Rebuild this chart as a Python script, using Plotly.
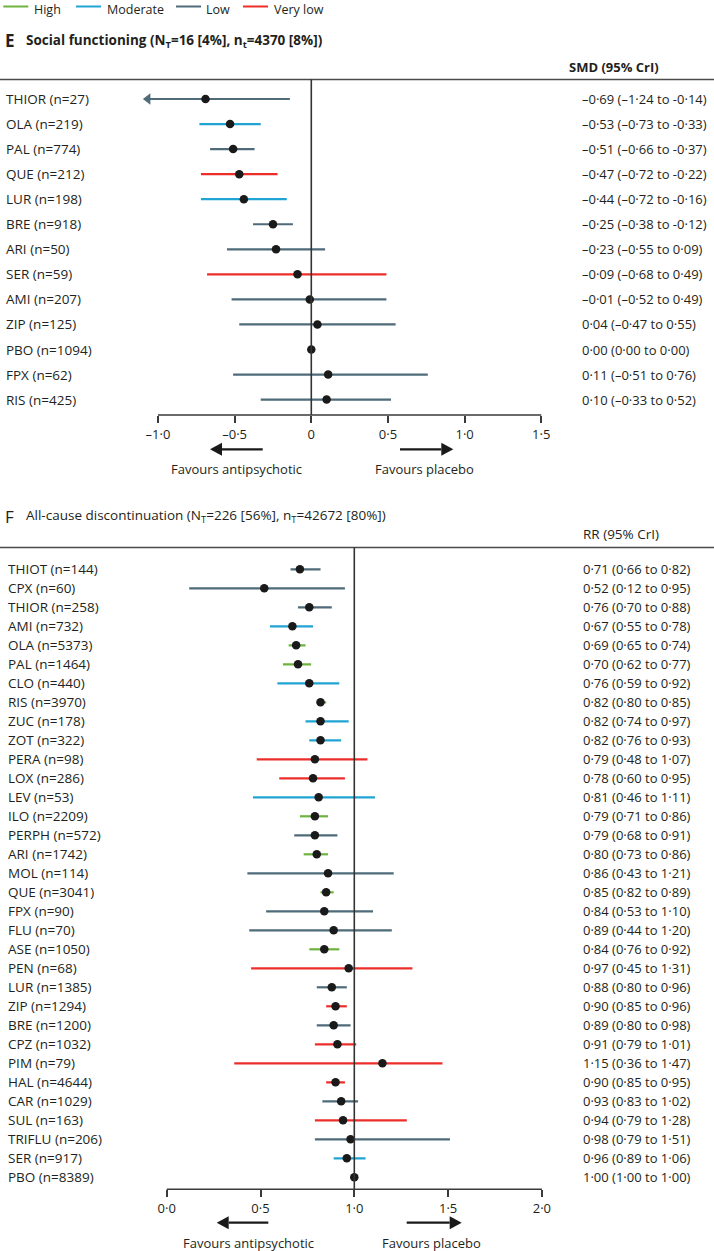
import plotly.graph_objects as go

W, H = 714, 1251
FONT = "Open Sans"
INK = "#231f20"

# ---------------- data ----------------
CERT_LEVELS = ["High", "Moderate", "Low", "Very low"]
CERT_COLORS = {"High": "#6db33f", "Moderate": "#1fa4d3", "Low": "#4f6a78", "Very low": "#ec2e2b"}

E_LABELS = ["THIOR (n=27)", "OLA (n=219)", "PAL (n=774)", "QUE (n=212)", "LUR (n=198)",
            "BRE (n=918)", "ARI (n=50)", "SER (n=59)", "AMI (n=207)", "ZIP (n=125)",
            "PBO (n=1094)", "FPX (n=62)", "RIS (n=425)"]
E_EST = [-0.69, -0.53, -0.51, -0.47, -0.44, -0.25, -0.23, -0.09, -0.01, 0.04, 0.00, 0.11, 0.10]
E_LO = [-1.24, -0.73, -0.66, -0.72, -0.72, -0.38, -0.55, -0.68, -0.52, -0.47, 0.00, -0.51, -0.33]
E_HI = [-0.14, -0.33, -0.37, -0.22, -0.16, -0.12, 0.09, 0.49, 0.49, 0.55, 0.00, 0.76, 0.52]
E_CERT = ["Low", "Moderate", "Low", "Very low", "Moderate", "Low", "Low", "Very low",
          "Low", "Low", None, "Low", "Low"]
E_TICKS = [-1.0, -0.5, 0.0, 0.5, 1.0, 1.5]
E_TICKTEXT = ["\u20131\u00b70", "\u20130\u00b75", "0", "0\u00b75", "1\u00b70", "1\u00b75"]
E_CLIP = -1.10  # display limit of the axis (arrow marks truncated intervals)

F_LABELS = ["THIOT (n=144)", "CPX (n=60)", "THIOR (n=258)", "AMI (n=732)", "OLA (n=5373)",
            "PAL (n=1464)", "CLO (n=440)", "RIS (n=3970)", "ZUC (n=178)", "ZOT (n=322)",
            "PERA (n=98)", "LOX (n=286)", "LEV (n=53)", "ILO (n=2209)", "PERPH (n=572)",
            "ARI (n=1742)", "MOL (n=114)", "QUE (n=3041)", "FPX (n=90)", "FLU (n=70)",
            "ASE (n=1050)", "PEN (n=68)", "LUR (n=1385)", "ZIP (n=1294)", "BRE (n=1200)",
            "CPZ (n=1032)", "PIM (n=79)", "HAL (n=4644)", "CAR (n=1029)", "SUL (n=163)",
            "TRIFLU (n=206)", "SER (n=917)", "PBO (n=8389)"]
F_EST = [0.71, 0.52, 0.76, 0.67, 0.69, 0.70, 0.76, 0.82, 0.82, 0.82, 0.79, 0.78, 0.81,
         0.79, 0.79, 0.80, 0.86, 0.85, 0.84, 0.89, 0.84, 0.97, 0.88, 0.90, 0.89, 0.91,
         1.15, 0.90, 0.93, 0.94, 0.98, 0.96, 1.00]
F_LO = [0.66, 0.12, 0.70, 0.55, 0.65, 0.62, 0.59, 0.80, 0.74, 0.76, 0.48, 0.60, 0.46,
        0.71, 0.68, 0.73, 0.43, 0.82, 0.53, 0.44, 0.76, 0.45, 0.80, 0.85, 0.80, 0.79,
        0.36, 0.85, 0.83, 0.79, 0.79, 0.89, 1.00]
F_HI = [0.82, 0.95, 0.88, 0.78, 0.74, 0.77, 0.92, 0.85, 0.97, 0.93, 1.07, 0.95, 1.11,
        0.86, 0.91, 0.86, 1.21, 0.89, 1.10, 1.20, 0.92, 1.31, 0.96, 0.96, 0.98, 1.01,
        1.47, 0.95, 1.02, 1.28, 1.51, 1.06, 1.00]
F_CERT = ["Low", "Low", "Low", "Moderate", "High", "High", "Moderate", "High", "Moderate",
          "Moderate", "Very low", "Very low", "Moderate", "High", "Low", "High", "Low",
          "High", "Low", "Low", "High", "Very low", "Low", "Very low", "Low", "Very low",
          "Very low", "Very low", "Low", "Very low", "Low", "Moderate", None]
F_TICKS = [0.0, 0.5, 1.0, 1.5, 2.0]
F_TICKTEXT = ["0\u00b70", "0\u00b75", "1\u00b70", "1\u00b75", "2\u00b70"]

E_TITLE = "Social functioning (N<sub>T</sub>=16 [4%], n<sub>t</sub>=4370 [8%])"
F_TITLE = "All-cause discontinuation (N<sub>T</sub>=226 [56%], n<sub>T</sub>=42672 [80%])"
E_HEADER = "SMD (95% CrI)"
F_HEADER = "RR (95% CrI)"


def fmt(v, dash="\u2013"):
    s = f"{abs(v):.2f}".replace(".", "\u00b7")
    return dash + s if v < 0 else s


def ci_text(e, l, h):
    return f"{fmt(e)} ({fmt(l)} to {fmt(h, '-')})"


# ---------------- layout geometry (pixels) ----------------
def px(x):
    return x / W


def py(y):
    return 1 - y / H


# panel E
E_ZERO_PX, E_UNIT_PX = 311.3, 153.3
E_TOP_PX, E_AXIS_PX, E_ROW0_PX, E_ROWSTEP = 79.5, 415.0, 99.0, 25.05
# panel F
F_ZERO_PX, F_UNIT_PX = 166.7, 187.6
F_TOP_PX, F_AXIS_PX, F_ROW0_PX, F_ROWSTEP = 547.5, 1189.3, 569.3, 19.0

fig = go.Figure()


def add_panel(xa, ya, est, lo, hi, cert, clip=None):
    for lvl in CERT_LEVELS:
        xs, ys = [], []
        for i, c in enumerate(cert):
            if c != lvl:
                continue
            l = lo[i] if clip is None or lo[i] >= clip else clip + 0.03
            xs += [l, hi[i], None]
            ys += [i, i, None]
        if xs:
            fig.add_trace(go.Scatter(x=xs, y=ys, mode="lines", xaxis=xa, yaxis=ya,
                                     line=dict(color=CERT_COLORS[lvl], width=2.2),
                                     showlegend=False, hoverinfo="skip"))
    if clip is not None:
        ax_, ay_, col_ = [], [], []
        for i, l in enumerate(lo):
            if l < clip:
                ax_.append(clip + 0.034)
                ay_.append(i)
                col_.append(CERT_COLORS[cert[i]])
        if ax_:
            fig.add_trace(go.Scatter(x=ax_, y=ay_, mode="markers", xaxis=xa, yaxis=ya,
                                     marker=dict(symbol="triangle-left", size=10, color=col_),
                                     showlegend=False, hoverinfo="skip"))
    fig.add_trace(go.Scatter(x=est, y=list(range(len(est))), mode="markers", xaxis=xa, yaxis=ya,
                             marker=dict(color="#1a1a1a", size=8.5, line=dict(width=0)),
                             showlegend=False))


add_panel("x", "y", E_EST, E_LO, E_HI, E_CERT, clip=E_CLIP)
add_panel("x2", "y2", F_EST, F_LO, F_HI, F_CERT)

axis_common = dict(showgrid=False, zeroline=False, showline=False, ticks="outside",
                   ticklen=7, tickwidth=1.5, tickcolor="#3a3a3a",
                   tickfont=dict(family=FONT, size=13, color=INK), fixedrange=True)

fig.update_layout(
    width=W, height=H, margin=dict(l=0, r=0, t=0, b=0, autoexpand=False),
    paper_bgcolor="white", plot_bgcolor="white", showlegend=False,
    font=dict(family=FONT, color=INK),
    xaxis=dict(domain=[0, 1], anchor="y",
               range=[(0 - E_ZERO_PX) / E_UNIT_PX, (W - E_ZERO_PX) / E_UNIT_PX],
               tickmode="array", tickvals=E_TICKS, ticktext=E_TICKTEXT, **axis_common),
    yaxis=dict(domain=[py(E_AXIS_PX), py(E_TOP_PX)], anchor="x", visible=False,
               range=[(E_AXIS_PX - E_ROW0_PX) / E_ROWSTEP, (E_TOP_PX - E_ROW0_PX) / E_ROWSTEP]),
    xaxis2=dict(domain=[0, 1], anchor="y2",
                range=[(0 - F_ZERO_PX) / F_UNIT_PX, (W - F_ZERO_PX) / F_UNIT_PX],
                tickmode="array", tickvals=F_TICKS, ticktext=F_TICKTEXT, **axis_common),
    yaxis2=dict(domain=[py(F_AXIS_PX), py(F_TOP_PX)], anchor="x2", visible=False,
                range=[(F_AXIS_PX - F_ROW0_PX) / F_ROWSTEP, (F_TOP_PX - F_ROW0_PX) / F_ROWSTEP]),
)

shapes = []
ann = []
LINE_COL = "#4a4a4a"

# legend
LEGEND_X_PX = [3.3, 76.0, 176.0, 243.0]
for lvl, x0 in zip(CERT_LEVELS, LEGEND_X_PX):
    shapes.append(dict(type="line", xref="paper", yref="paper", x0=px(x0), x1=px(x0 + 25),
                       y0=py(6.5), y1=py(6.5), line=dict(color=CERT_COLORS[lvl], width=2)))
    ann.append(dict(text=lvl, xref="paper", yref="paper", x=px(x0 + 29.5), y=1,
                    xanchor="left", yanchor="top", showarrow=False, borderpad=0,
                    font=dict(family=FONT, size=12.5, color=INK)))


def add_arrow(tip, tail, y):
    d = 1 if tail > tip else -1
    base = tip + d * 12
    shapes.append(dict(type="line", xref="paper", yref="paper", x0=px(tail), x1=px(base),
                       y0=py(y), y1=py(y), line=dict(color="#1a1a1a", width=2.2)))
    shapes.append(dict(type="path", xref="paper", yref="paper",
                       path=f"M {px(tip)},{py(y)} L {px(base)},{py(y - 6.5)} "
                            f"L {px(base)},{py(y + 6.5)} Z",
                       fillcolor="#1a1a1a", line=dict(width=0)))


for (xa, ya, top_px, labels, est, lo, hi, letter, title, title_y, header, header_x,
     header_y, lab_x, val_x, tick_lo, tick_hi, arrows_y, text_y,
     arr_pts, txt_pts, bold) in [
    ("x", "y", E_TOP_PX, E_LABELS, E_EST, E_LO, E_HI, "E", E_TITLE, 41, E_HEADER, 567, 67,
     4, 580, E_TICKS[0], E_TICKS[-1], 449.3, 469,
     [(210, 262.7), (453.3, 400)], [236.2, 424], True),
    ("x2", "y2", F_TOP_PX, F_LABELS, F_EST, F_LO, F_HI, "F", F_TITLE, 516, F_HEADER, 581, 534,
     6, 581, F_TICKS[0], F_TICKS[-1], 1222.7, 1243,
     [(216.7, 268.3), (461.7, 406.7)], [248.3, 432], False),
]:
    # top rule
    shapes.append(dict(type="line", xref="paper", yref="paper", x0=0, x1=1,
                       y0=py(top_px), y1=py(top_px), line=dict(color=LINE_COL, width=1.6)))
    # no-effect line
    ref = 0 if xa == "x" else 1
    shapes.append(dict(type="line", xref=xa, yref=ya + " domain", x0=ref, x1=ref, y0=0, y1=1,
                       line=dict(color="#333333", width=1.6)))
    # axis line
    shapes.append(dict(type="line", xref=xa, yref=ya + " domain", x0=tick_lo, x1=tick_hi,
                       y0=0, y1=0, line=dict(color="#3a3a3a", width=1.6)))
    # letter + title
    ann.append(dict(text="<b>" + letter + "</b>" if bold else letter, xref="paper",
                    yref="paper", x=px(3), y=py(title_y), xanchor="left", yanchor="middle",
                    showarrow=False, font=dict(family=FONT, size=17, color=INK)))
    ann.append(dict(text=("<b>" + title + "</b>") if bold else title, xref="paper",
                    yref="paper", x=px(24), y=py(title_y), xanchor="left", yanchor="middle",
                    showarrow=False, font=dict(family=FONT, size=13.5, color=INK)))
    ann.append(dict(text=("<b>" + header + "</b>") if bold else header, xref="paper",
                    yref="paper", x=px(header_x), y=py(header_y), xanchor="left",
                    yanchor="middle", showarrow=False,
                    font=dict(family=FONT, size=13 if bold else 13.5, color=INK)))
    # rows
    for i, lab in enumerate(labels):
        ann.append(dict(text=lab, xref="paper", yref=ya, x=px(lab_x), y=i, xanchor="left",
                        yanchor="middle", showarrow=False,
                        font=dict(family=FONT, size=13.5, color=INK)))
        ann.append(dict(text=ci_text(est[i], lo[i], hi[i]), xref="paper", yref=ya, x=px(val_x),
                        y=i, xanchor="left", yanchor="middle", showarrow=False,
                        font=dict(family=FONT, size=13, color=INK)))
    # favours arrows
    for (tip, tail) in arr_pts:
        add_arrow(tip, tail, arrows_y)
    for txt, cx in zip(["Favours antipsychotic", "Favours placebo"], txt_pts):
        ann.append(dict(text=txt, xref="paper", yref="paper", x=px(cx), y=py(text_y),
                        xanchor="center", yanchor="middle", showarrow=False,
                        font=dict(family=FONT, size=13, color=INK)))

fig.update_layout(shapes=shapes, annotations=ann)
fig.write_html("out.html", config={"displayModeBar": False},
               post_script="document.body.style.margin='0';document.body.style.padding='0';")
